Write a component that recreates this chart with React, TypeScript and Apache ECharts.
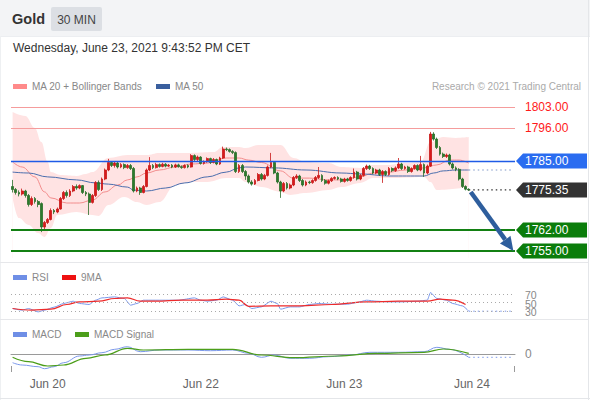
import React, { useEffect, useRef } from "react";
import * as echarts from "echarts";

const FONT = '"Liberation Sans", Arial, Helvetica, sans-serif';

const N_SLOTS = 158;
const dayTickIndex = [11, 59, 104, 144];
const dayTickLabel = ["Jun 20", "Jun 22", "Jun 23", "Jun 24"];

// [open, close, low, high]
const candles: number[][] = [
  [1776.5, 1775.5, 1774.5, 1778.7], [1775.5, 1774.5, 1773.8, 1776], [1774.5, 1774, 1773.2, 1775.2], [1774, 1775, 1773.5, 1775.8],
  [1775, 1773.5, 1772.8, 1775.4], [1773.5, 1770.5, 1769.8, 1774], [1770.5, 1772.5, 1770, 1773.2], [1772.5, 1771.5, 1770.8, 1773],
  [1771.5, 1770.5, 1769.6, 1772], [1770.8, 1763, 1761.3, 1771.2], [1763, 1764.5, 1762.2, 1765], [1764.5, 1765.5, 1764, 1766],
  [1765.5, 1768.5, 1765.2, 1769.2], [1768.5, 1768, 1767.3, 1769], [1768, 1769, 1767.6, 1769.5], [1769, 1772.5, 1768.8, 1773],
  [1772.5, 1774.5, 1772, 1775], [1774.5, 1773.5, 1772.8, 1775.2], [1773.5, 1775, 1773, 1775.6], [1775, 1776.5, 1774.6, 1777],
  [1776.5, 1776, 1775.4, 1777.2], [1776, 1776.8, 1775.6, 1777.2], [1776.8, 1774.5, 1774, 1777], [1774.5, 1774, 1773.3, 1775],
  [1774, 1771.2, 1767, 1774.5], [1771.2, 1773.5, 1770.8, 1774], [1773.5, 1777.8, 1773, 1778.3], [1777.8, 1775.5, 1775, 1778.5],
  [1775.5, 1779, 1775, 1779.5], [1779, 1782, 1778.6, 1782.5], [1782, 1784.5, 1781.6, 1785.7], [1784.5, 1783.5, 1783, 1785],
  [1783.5, 1784.3, 1782.8, 1784.8], [1784.3, 1783, 1782.5, 1784.8], [1783, 1783.8, 1782.6, 1784.3], [1783.8, 1782.8, 1782.3, 1784.2],
  [1782.8, 1783.5, 1782.4, 1784], [1783.5, 1782.5, 1782, 1784], [1782.5, 1775, 1774.5, 1783], [1775, 1776, 1774.6, 1776.5],
  [1776, 1774.5, 1773.7, 1776.4], [1774.5, 1776.5, 1774.2, 1777], [1776.5, 1782, 1776.2, 1782.5], [1782, 1783.5, 1781.6, 1786.3],
  [1783.5, 1782.8, 1782.3, 1784], [1782.8, 1783.8, 1782.5, 1784.4], [1783.8, 1783.2, 1782.8, 1784.2], [1783.2, 1783.9, 1782.9, 1784.4],
  [1783.9, 1783.3, 1782.9, 1784.3], [1783.3, 1783.6, 1783, 1784], [1783.6, 1783, 1782.6, 1784], [1783, 1783.7, 1782.7, 1784.1],
  [1783.7, 1783.1, 1782.8, 1784.1], [1783.1, 1782.8, 1782.4, 1783.5], [1782.8, 1783.5, 1782.5, 1783.9], [1783.5, 1783, 1782.6, 1783.9],
  [1783, 1786.8, 1782.8, 1787.3], [1786.8, 1785.5, 1785, 1787.2], [1785.5, 1786.3, 1785, 1786.8], [1786.3, 1784.2, 1783.8, 1786.6],
  [1784.2, 1784.8, 1783.8, 1785.2], [1784.8, 1785.8, 1784.4, 1786.2], [1785.8, 1784.5, 1784, 1786.1], [1784.5, 1785.5, 1784.2, 1786],
  [1785.5, 1784, 1783.6, 1785.8], [1784, 1786, 1783.7, 1786.4], [1786, 1789, 1785.7, 1789.8], [1789, 1788.8, 1788.3, 1789.5],
  [1788.8, 1788.2, 1787.8, 1789.2], [1788.2, 1787.8, 1787.3, 1788.6], [1787.8, 1781.5, 1781, 1788.2], [1781.5, 1783.5, 1781, 1784],
  [1783.5, 1781.5, 1781, 1784], [1781.5, 1780, 1778.7, 1782], [1780, 1778, 1777.5, 1780.5], [1778, 1777.3, 1776.8, 1778.6],
  [1777.3, 1778.5, 1777, 1779], [1778.5, 1780.5, 1778.2, 1781], [1780.5, 1779, 1778.5, 1781], [1779, 1780.2, 1778.6, 1780.7],
  [1780.2, 1783, 1779.8, 1783.5], [1783, 1784.5, 1782.6, 1787.7], [1784.5, 1781, 1780.6, 1785], [1781, 1778, 1777.5, 1781.4],
  [1778, 1775, 1772.7, 1778.4], [1775, 1777.5, 1774.6, 1778], [1777.5, 1776, 1775.5, 1778], [1776, 1777, 1775.6, 1777.5],
  [1777, 1779.5, 1776.6, 1780], [1779.5, 1780, 1779, 1780.6], [1780, 1778.5, 1778, 1780.4], [1778.5, 1777, 1776.5, 1779],
  [1777, 1778, 1776.6, 1778.5], [1778, 1777.8, 1777.3, 1778.4], [1777.8, 1778.5, 1777.4, 1778.9], [1778.5, 1779.5, 1778.1, 1780],
  [1779.5, 1780.2, 1779, 1783], [1780.2, 1778.5, 1778, 1780.6], [1778.5, 1777.6, 1777.1, 1779], [1777.6, 1778.4, 1777.2, 1778.8],
  [1778.4, 1779.2, 1778, 1779.6], [1779.2, 1779.5, 1778.8, 1779.9], [1779.5, 1779, 1778.6, 1779.9], [1779, 1778.2, 1777.8, 1779.4],
  [1778.2, 1779, 1777.8, 1779.4], [1779, 1778.5, 1778.1, 1779.4], [1778.5, 1779.5, 1778.1, 1779.9], [1779.5, 1781.3, 1779.1, 1782.5],
  [1781.3, 1779, 1778.5, 1781.7], [1779, 1780.2, 1778.6, 1780.7], [1780.2, 1782.5, 1779.8, 1783], [1782.5, 1783.3, 1782, 1783.8],
  [1783.3, 1782.5, 1782, 1783.7], [1782.5, 1781, 1780.6, 1782.9], [1781, 1782, 1780.6, 1782.4], [1782, 1780.5, 1780, 1782.4],
  [1780.5, 1781.5, 1777.7, 1782], [1781.5, 1780.5, 1780, 1781.9], [1780.5, 1782.5, 1780.1, 1783], [1782.5, 1781.8, 1781.3, 1782.9],
  [1781.8, 1782.7, 1781.4, 1783.2], [1782.7, 1784, 1782.3, 1786], [1784, 1782.5, 1782, 1784.4], [1782.5, 1783, 1782.1, 1783.4],
  [1783, 1781.5, 1781, 1783.4], [1781.5, 1782.5, 1781.1, 1782.9], [1782.5, 1783.5, 1782.1, 1783.9], [1783.5, 1782, 1781.6, 1783.9],
  [1782, 1783.8, 1781.6, 1786.7], [1783.8, 1781, 1779.7, 1784.2], [1781, 1783.3, 1780.6, 1783.8], [1783.3, 1794, 1783, 1794.7],
  [1794, 1792.3, 1791.8, 1794.6], [1792.3, 1789.5, 1789, 1792.8], [1789.5, 1787.3, 1786.8, 1790], [1787.3, 1786.5, 1786, 1787.8],
  [1786.5, 1787, 1786, 1787.5], [1787, 1784, 1783.5, 1787.4], [1784, 1782.7, 1782.2, 1784.5], [1782.7, 1782.2, 1781.6, 1783.2],
  [1782.2, 1779, 1778.5, 1782.6], [1779, 1776.5, 1776, 1779.4], [1776.5, 1775.6, 1775.2, 1776.9], [1775.6, 1775.35, 1775, 1775.9],
];

// [slot index, value] points
const ma20: number[][] = [
  [0, 1784.7], [3, 1783], [7, 1779.7], [10, 1774.7], [12, 1772.7], [17, 1771], [21, 1771], [25, 1772], [29, 1774.7],
  [33, 1777], [36, 1778.7], [39, 1779.7], [42, 1781], [46, 1782], [51, 1783], [56, 1784], [61, 1784.3], [67, 1786],
  [71, 1786], [74, 1785.3], [78, 1784.5], [84, 1781.7], [88, 1779.3], [93, 1779.3], [99, 1778.7], [103, 1778.7],
  [109, 1779.7], [113, 1781], [118, 1781.3], [123, 1782], [129, 1782.7], [133, 1783.7], [137, 1785.3], [140, 1785.3], [143, 1784.3],
];
const bbUpper: number[][] = [
  [0, 1801.3], [4, 1800], [7, 1796], [9, 1791.3], [11, 1784.7], [12, 1781.3], [15, 1780.3], [20, 1780], [23, 1780.7],
  [25, 1781.3], [30, 1786], [36, 1787], [42, 1787], [46, 1787.7], [56, 1787.7], [63, 1788], [66, 1789.7], [71, 1789.7],
  [73, 1789.3], [77, 1790.3], [84, 1790.3], [88, 1786], [92, 1784.7], [99, 1784.3], [103, 1783], [109, 1782.7],
  [113, 1783.7], [118, 1783.7], [123, 1784.3], [128, 1784.7], [131, 1791.3], [135, 1793], [139, 1792.7], [143, 1793],
];
const bbLower: number[][] = [
  [0, 1772.7], [2, 1766], [5, 1763.7], [8, 1761], [10, 1759.7], [12, 1762.7], [14, 1767], [20, 1768], [25, 1767],
  [27, 1766.7], [30, 1770.3], [35, 1773], [39, 1771.3], [42, 1770.3], [46, 1771.3], [51, 1777], [56, 1778], [61, 1778],
  [67, 1779.3], [71, 1779.3], [73, 1778], [78, 1776.3], [84, 1774.7], [87, 1773.7], [92, 1774.3], [99, 1775.3],
  [103, 1776.3], [109, 1777.7], [113, 1779.3], [118, 1779.3], [129, 1779.7], [131, 1778], [133, 1775.3], [143, 1776.3],
];
const ma50: number[][] = [
  [0, 1781.3], [5, 1781], [11, 1779.7], [20, 1778.7], [26, 1777.7], [30, 1777.3], [36, 1776.3], [38, 1775.3], [42, 1775],
  [48, 1776], [54, 1777.7], [61, 1779.7], [67, 1781.3], [71, 1782.7], [73, 1783], [82, 1782.7], [92, 1782], [103, 1781],
  [109, 1780.7], [118, 1780], [129, 1780], [132, 1781], [135, 1781.7], [139, 1782], [143, 1782],
];
const lastClose = 1775.35;
const resistanceLevels = [1803, 1796];
const pivotLevel = 1785;
const supportLevels = [1762, 1755];

const rsi: number[][] = [
  [0, 35.7], [3, 31.7], [5, 35.7], [8, 27.6], [10, 31.7], [13, 38.9], [16, 47.7], [19, 53.2], [21, 47.7], [24, 45.3],
  [26, 55.6], [28, 61.1], [32, 63.5], [35, 59.7], [37, 43.7], [39, 47.7], [41, 55.6], [44, 55.6], [48, 55.6], [52, 55.6],
  [57, 61.1], [59, 55.6], [61, 53.2], [64, 55.6], [66, 63.5], [69, 55.6], [71, 42], [73, 45.3], [75, 35.7], [78, 39.6],
  [81, 53.2], [83, 47.7], [84, 34], [87, 39.6], [90, 39.6], [93, 45.3], [96, 47.7], [100, 46], [105, 46], [108, 50.1],
  [111, 55.6], [114, 53.2], [118, 51.6], [122, 51.6], [127, 53.2], [130, 55.6], [131, 74], [133, 59.7], [136, 55.6],
  [138, 47.7], [141, 42], [143, 29.3],
];
const rsiMa: number[][] = [
  [0, 35.7], [6, 31.7], [12, 34], [17, 45.3], [21, 51.6], [27, 53.2], [32, 59.7], [36, 61.1], [40, 53.2], [45, 53.2],
  [53, 55.6], [61, 55.6], [67, 58], [71, 55.6], [74, 41], [81, 42], [90, 42], [100, 45.3], [111, 51.6], [121, 53.2],
  [130, 53.2], [134, 58], [138, 55.6], [142, 45.3],
];
const rsiLevels = [70, 50, 30];

const macd: number[][] = [
  [0, -4.35], [3, -5.5], [8, -6.35], [10, -7.35], [13, -6.35], [16, -4.35], [21, -1], [24, -0.5], [28, 0.65], [32, 2.35],
  [36, 3.65], [40, 1.15], [46, 2], [55, 2], [62, 1.65], [69, 2], [74, 0.35], [78, -1.65], [82, -0.5], [87, -2.15],
  [93, -2.15], [99, -1.35], [106, -0.5], [112, 0.85], [121, 0.85], [129, 1.15], [133, 3.35], [137, 2.35], [143, -1.65],
];
const macdSignal: number[][] = [
  [0, -1.65], [5, -3.85], [11, -6], [16, -5.5], [23, -2.15], [29, -0.5], [36, 2.85], [41, 2], [55, 2.35], [69, 2.35],
  [78, -0.5], [88, -1.85], [102, -1], [114, 0.35], [129, 0.85], [135, 2.5], [143, 0.35],
];

const LEFT = 11;
const WIDTH = 504;

export default function App() {
  const ref = useRef<HTMLDivElement>(null);

  useEffect(() => {
    if (!ref.current) return;
    const chart = echarts.init(ref.current, undefined, { renderer: "svg", width: 590, height: 400 });
    const categories = Array.from({ length: N_SLOTS }, (_, i) => String(i));
    const lastIdx = candles.length - 1;
    const endIdx = N_SLOTS - 1;
    const lineBase = { type: "line", symbol: "none", silent: true, smooth: 0.4, smoothMonotone: "x" };

    const option: any = {
      animation: false,
      backgroundColor: "#ffffff",
      grid: [
        { left: LEFT, width: WIDTH, top: 95, height: 163 },
        { left: LEFT, width: WIDTH, top: 285, height: 33.4 },
        { left: LEFT, width: WIDTH, top: 340, height: 32 },
      ],
      xAxis: [0, 1, 2].map((g) => ({
        type: "category",
        gridIndex: g,
        data: categories,
        boundaryGap: true,
        axisLine: { show: g === 2, lineStyle: { color: "#9a9a9a", width: 1 } },
        axisTick: { show: false },
        splitLine: { show: false },
        axisLabel: {
          show: g === 2,
          interval: (idx: number) => dayTickIndex.includes(idx),
          formatter: (_v: string, idx: number) => {
            const k = dayTickIndex.indexOf(idx);
            return k >= 0 ? dayTickLabel[k] : "";
          },
          color: "#666",
          fontSize: 12,
          fontFamily: FONT,
          margin: 6,
        },
      })),
      yAxis: [
        { gridIndex: 0, min: 1752.667, max: 1807, show: false },
        { gridIndex: 1, min: 12, max: 92, show: false },
        { gridIndex: 2, min: -9, max: 7, show: false },
      ],
      series: [
        {
          ...lineBase, name: "bbUpper", data: bbUpper, xAxisIndex: 0, yAxisIndex: 0, z: 1,
          lineStyle: { width: 0 }, areaStyle: { color: "#ffe3e3", opacity: 1, origin: "start" },
        },
        {
          ...lineBase, name: "bbLower", data: bbLower, xAxisIndex: 0, yAxisIndex: 0, z: 1,
          lineStyle: { width: 0 }, areaStyle: { color: "#ffffff", opacity: 1, origin: "start" },
        },
        { ...lineBase, name: "MA 20", data: ma20, z: 3, lineStyle: { color: "#f28c8c", width: 1 } },
        { ...lineBase, name: "MA 50", data: ma50, z: 3, lineStyle: { color: "#4b6ead", width: 1 } },
        {
          ...lineBase, name: "ma50ext", smooth: false, z: 3,
          data: [[lastIdx, ma50[ma50.length - 1][1]], [endIdx, ma50[ma50.length - 1][1]]],
          lineStyle: { color: "#7f97c6", width: 1.2, type: [1.5, 3] },
        },
        {
          ...lineBase, name: "closeext", smooth: false, z: 3,
          data: [[lastIdx, lastClose], [endIdx, lastClose]],
          lineStyle: { color: "#333", width: 1.2, type: [1.5, 3] },
        },
        {
          type: "candlestick",
          name: "Gold",
          data: candles,
          z: 5,
          silent: true,
          barWidth: 2.3,
          itemStyle: {
            color: "#d71a1a",
            color0: "#2c7a2c",
            borderColor: "#c81818",
            borderColor0: "#2a6f2a",
            borderWidth: 0.8,
          },
          markLine: {
            silent: true,
            symbol: ["none", "none"],
            label: { show: false },
            z: 6,
            data: [
              ...resistanceLevels.map((v) => ({ yAxis: v, lineStyle: { color: "#f59c9c", width: 1, type: "solid" } })),
              { yAxis: pivotLevel, lineStyle: { color: "#1f5be6", width: 1.3, type: "solid", opacity: 1 } },
              ...supportLevels.map((v) => ({ yAxis: v, lineStyle: { color: "#138013", width: 2.2, type: "solid" } })),
            ],
          },
        },
        {
          ...lineBase, name: "RSI", data: rsi, xAxisIndex: 1, yAxisIndex: 1, smooth: 0.2, z: 4,
          lineStyle: { color: "#7b98ea", width: 1 },
          markLine: {
            silent: true,
            symbol: ["none", "none"],
            label: { show: false },
            data: rsiLevels.map((v) => ({ yAxis: v, lineStyle: { color: "#aaaaaa", width: 1, type: [1, 3] } })),
          },
        },
        { ...lineBase, name: "9MA", data: rsiMa, xAxisIndex: 1, yAxisIndex: 1, z: 4, lineStyle: { color: "#ee2a2a", width: 1.2 } },
        {
          ...lineBase, name: "rsiext", smooth: false, xAxisIndex: 1, yAxisIndex: 1,
          data: [[lastIdx, rsi[rsi.length - 1][1]], [endIdx, rsi[rsi.length - 1][1]]],
          lineStyle: { color: "#7b98ea", width: 1, type: [1.5, 3] },
        },
        { ...lineBase, name: "MACD", data: macd, xAxisIndex: 2, yAxisIndex: 2, z: 4, lineStyle: { color: "#7b98ea", width: 1 } },
        { ...lineBase, name: "MACD Signal", data: macdSignal, xAxisIndex: 2, yAxisIndex: 2, z: 4, lineStyle: { color: "#4c9e1a", width: 1.2 } },
        {
          ...lineBase, name: "macdext", smooth: false, xAxisIndex: 2, yAxisIndex: 2,
          data: [[lastIdx, macd[macd.length - 1][1]], [endIdx, macd[macd.length - 1][1]]],
          lineStyle: { color: "#7b98ea", width: 1, type: [1.5, 3] },
        },
      ],
    };
    chart.setOption(option);

    const px = (g: number, x: number, y: number) => chart.convertToPixel({ gridIndex: g } as any, [x, y]) as number[];
    const right = LEFT + WIDTH;
    const T = (text: string, x: number, y: number, opts: any = {}) => ({
      type: "text",
      silent: true,
      style: {
        text, x, y,
        fill: opts.fill || "#888",
        fontSize: opts.fontSize || 10,
        fontWeight: opts.fontWeight || "normal",
        fontFamily: FONT,
        textAlign: opts.align || "left",
        textVerticalAlign: "middle",
      },
      z: 100,
    });
    const R = (x: number, y: number, w: number, h: number, fill: string, r = 0) => ({
      type: "rect", silent: true, shape: { x, y, width: w, height: h, r }, style: { fill }, z: 90,
    });
    const L = (x1: number, y1: number, x2: number, y2: number, stroke: string, lineWidth = 1) => ({
      type: "line", silent: true, shape: { x1, y1, x2, y2 }, style: { stroke, lineWidth }, z: 90,
    });
    const tag = (value: number, fill: string) => {
      const y = px(0, 0, value)[1];
      const x0 = right + 1;
      return [
        {
          type: "polygon", silent: true, z: 95,
          shape: { points: [[x0, y], [x0 + 7, y - 7.5], [587, y - 7.5], [587, y + 7.5], [x0 + 7, y + 7.5]] },
          style: { fill },
        },
        T(value.toFixed(2), right + 10, y, { fill: "#ffffff", fontSize: 12 }),
      ];
    };

    const start = px(0, lastIdx, lastClose);
    const tip = px(0, endIdx, supportLevels[1]);
    const dx = tip[0] - (start[0] + 2);
    const dy = tip[1] - (start[1] + 2);
    const len = Math.hypot(dx, dy);
    const ux = dx / len, uy = dy / len;
    const headLen = 14, headHalf = 6.5;
    const bx = tip[0] - ux * headLen, by = tip[1] - uy * headLen;

    const macd0 = px(2, 0, 0)[1];
    const axisY = 372;

    const graphics: any[] = [
      R(0, 0, 590, 36, "#f3f4f6"),
      L(0, 36.5, 590, 36.5, "#eceef1"),
      L(588.5, 0, 588.5, 400, "#e4e6e9"),
      L(0.5, 36, 0.5, 400, "#eef0f2"),
      L(0, 262.5, 588, 262.5, "#e6e7ea"),
      L(0, 319.5, 588, 319.5, "#e6e7ea"),
      L(0, 398.5, 590, 398.5, "#e4e6e9"),
      T("Gold", 12, 19, { fill: "#333", fontSize: 14.5, fontWeight: "bold" }),
      R(51, 7, 51, 24, "#dcdfe4", 2),
      T("30 MIN", 76.5, 19.5, { fill: "#444", fontSize: 12, align: "center" }),
      T("Wednesday, June 23, 2021 9:43:52 PM CET", 13, 48, { fill: "#333", fontSize: 12 }),
      R(13, 84, 14, 5, "#ff8a8a"),
      T("MA 20 + Bollinger Bands", 32, 86.5),
      R(156, 84, 14, 5, "#3a5f9e"),
      T("MA 50", 175, 86.5),
      T("Research © 2021 Trading Central", 581, 86.5, { fill: "#aaaaaa", align: "right" }),
      ...resistanceLevels.map((v) => T(v.toFixed(2), right + 10, px(0, 0, v)[1], { fill: "#ff1a1a", fontSize: 12 })),
      ...tag(pivotLevel, "#2a6cf0"),
      ...tag(lastClose, "#333333"),
      ...supportLevels.flatMap((v) => tag(v, "#0b7d0b")),
      {
        type: "line", silent: true, z: 96,
        shape: { x1: start[0] + 2, y1: start[1] + 2, x2: bx, y2: by },
        style: { stroke: "#2e5e9d", lineWidth: 4.5 },
      },
      {
        type: "polygon", silent: true, z: 96,
        shape: {
          points: [
            [tip[0], tip[1]],
            [bx - uy * headHalf, by + ux * headHalf],
            [bx + uy * headHalf, by - ux * headHalf],
          ],
        },
        style: { fill: "#2e5e9d" },
      },
      R(13, 275, 14, 5, "#6f8fe6"),
      T("RSI", 32, 277.5),
      R(62, 275, 14, 5, "#ee1111"),
      T("9MA", 81, 277.5),
      ...rsiLevels.map((v) => T(String(v), right + 10, px(1, 0, v)[1] + 1, { fill: "#888", fontSize: 10.5 })),
      R(13, 332, 14, 5, "#6f8fe6"),
      T("MACD", 32, 334.5),
      R(75, 332, 14, 5, "#4c9e1a"),
      T("MACD Signal", 94, 334.5),
      T("0", right + 10, macd0, { fill: "#888", fontSize: 12 }),
      L(LEFT + 0.5, axisY - 6, LEFT + 0.5, axisY, "#9a9a9a"),
      L(right - 0.5, axisY - 6, right - 0.5, axisY, "#9a9a9a"),
    ];
    chart.setOption({ graphic: graphics });

    return () => chart.dispose();
  }, []);

  return (
    <div
      ref={ref}
      style={{ position: "fixed", left: 0, top: 0, width: 590, height: 400, background: "#fff" }}
    />
  );
}
